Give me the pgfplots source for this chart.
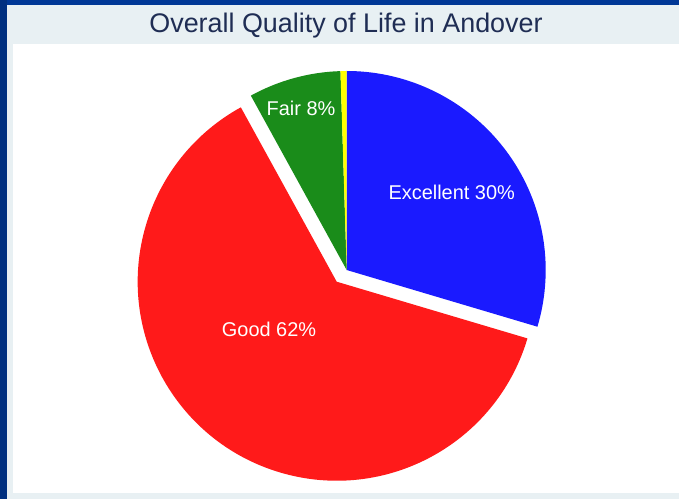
\documentclass[border=0pt]{standalone}
\usepackage{pgfplots}
\pgfplotsset{compat=1.18}
\usepackage{pgfplotstable}
\usepackage{fontspec}
\setmainfont{Liberation Sans}
\usetikzlibrary{calc}

\definecolor{frameblue}{RGB}{0,56,150}
\definecolor{panelgray}{RGB}{232,240,243}
\definecolor{titlenavy}{RGB}{31,45,84}
\definecolor{sliceblue}{RGB}{26,26,255}
\definecolor{slicered}{RGB}{255,26,26}
\definecolor{slicegreen}{RGB}{26,140,26}
\definecolor{sliceyellow}{RGB}{255,255,0}

% shares of the answers, in per cent
\pgfplotstableread{
label      value
Excellent  29.6
Good       62.4
Fair       7.5
Poor       0.5
}\lifetable

\pgfplotstablegetelem{0}{value}\of\lifetable \let\vExc\pgfplotsretval
\pgfplotstablegetelem{1}{value}\of\lifetable \let\vGood\pgfplotsretval
\pgfplotstablegetelem{2}{value}\of\lifetable \let\vFair\pgfplotsretval
\pgfplotstablegetelem{3}{value}\of\lifetable \let\vPoor\pgfplotsretval

% slices run clockwise from 12 o'clock
\pgfmathsetmacro{\aA}{90}
\pgfmathsetmacro{\aB}{\aA-3.6*\vExc}
\pgfmathsetmacro{\aC}{\aB-3.6*\vGood}
\pgfmathsetmacro{\aD}{\aC-3.6*\vFair}
\pgfmathsetmacro{\aE}{\aD-3.6*\vPoor}

\def\R{199bp}

\begin{document}
\begin{tikzpicture}
\begin{axis}[
  width=679bp,height=499bp,scale only axis,
  xmin=0,xmax=679,ymin=0,ymax=499,
  hide axis,clip=false]
% frame and panel
\fill[panelgray] (axis cs:0,0) rectangle (axis cs:679,499);
\fill[frameblue] (axis cs:0,494) rectangle (axis cs:679,499);
\fill[frameblue!85!black] (axis cs:0,0) rectangle (axis cs:7,499);
\fill[white] (axis cs:13,6) rectangle (axis cs:679,455);
\node[text=titlenavy,font=\fontsize{27}{32}\selectfont] at (axis cs:346,473) {Overall Quality of Life in Andover};

% pie, Good is pulled out
\fill[sliceblue] (axis cs:346.7,229) -- ++(\aA:\R) arc[start angle=\aA,end angle=\aB,radius=\R] -- cycle;
\fill[slicered] (axis cs:336.7,217.3) -- ++(\aB:\R) arc[start angle=\aB,end angle=\aC,radius=\R] -- cycle;
\fill[slicegreen] (axis cs:346.7,229) -- ++(\aC:\R) arc[start angle=\aC,end angle=\aD,radius=\R] -- cycle;
\fill[sliceyellow] (axis cs:346.7,229) -- ++(\aD:\R) arc[start angle=\aD,end angle=\aE,radius=\R] -- cycle;

\node[white,font=\fontsize{20}{24}\selectfont] at (axis cs:451.7,306.3) {Excellent 30\%};
\node[white,font=\fontsize{20}{24}\selectfont] at (axis cs:269,170) {Good 62\%};
\node[white,font=\fontsize{20}{24}\selectfont] at (axis cs:301,391) {Fair 8\%};
\end{axis}
\end{tikzpicture}
\end{document}
